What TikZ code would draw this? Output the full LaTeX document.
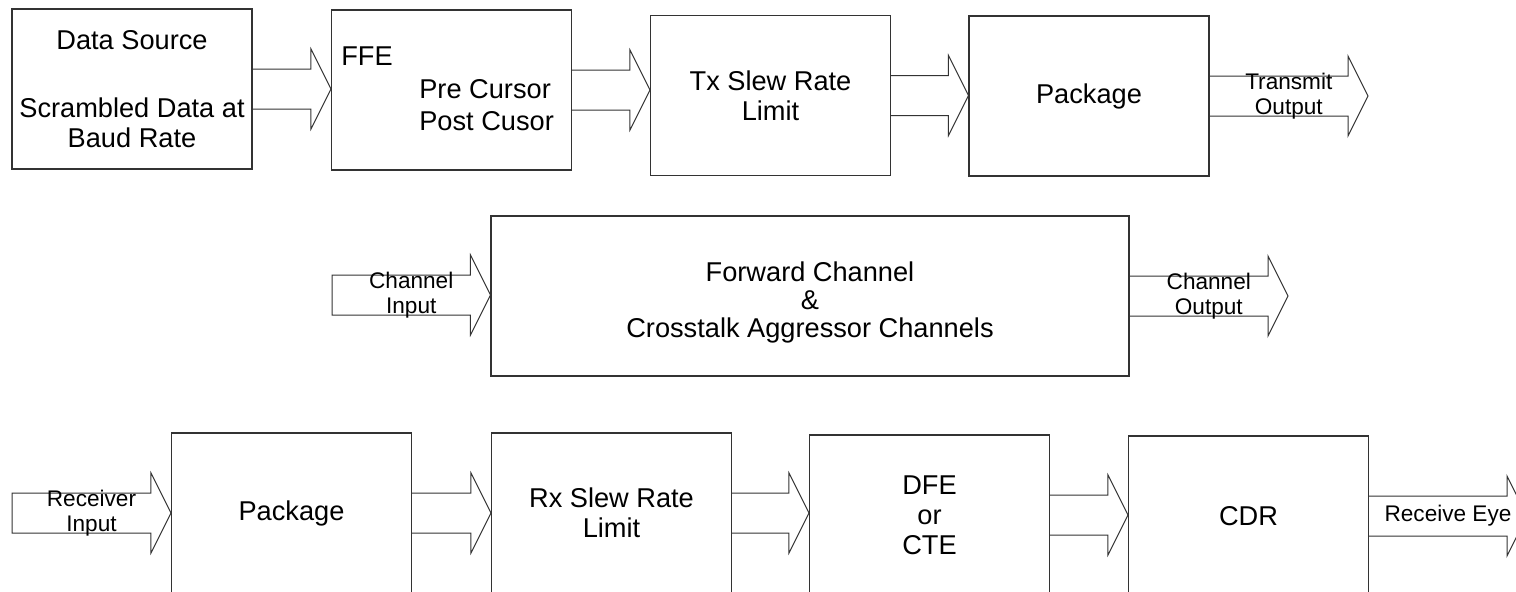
\documentclass[tikz,border=0pt]{standalone}
\usepackage{fontspec}
\setmainfont{Liberation Sans}
\usetikzlibrary{calc, positioning}

% block arrow from #1 (tail) to #2 (tip); end with ; or -- cycle;
\newcommand{\fatarrow}[2]{%
  \draw[fat] ($(#1)+(0,-20)$) -- ($(#2)+(-20,-20)$) -- ($(#2)+(-20,-40)$)
    -- (#2) -- ($(#2)+(-20,40)$) -- ($(#2)+(-20,20)$) -- ($(#1)+(0,20)$)}

\begin{document}
\begin{tikzpicture}[
  x=0.5pt, y=-0.5pt,
  block/.style={draw=black!80, line width=0.55pt, minimum width=120pt,
    minimum height=80pt, inner sep=0pt, align=center,
    font=\fontsize{13.6}{15}\selectfont},
  fat/.style={draw=black!80, line width=0.5pt, line join=miter},
  tag/.style={font=\fontsize{11.3}{12.5}\selectfont, align=center, inner sep=0pt},
  txt/.style={font=\fontsize{13.6}{15}\selectfont, inner sep=0pt}
]
  \useasboundingbox (0,0) rectangle (1516,591);
  \clip (0,0) rectangle (1516,591);

  % --- Transmitter ---
  \node[block] (ds) at (132, 89)
    {Data Source\\[19pt]Scrambled Data at\\Baud Rate};
  \node[block] (ffe) at (451.5, 90) {};
  \node[txt, anchor=base west] (ffename) at ([shift={(10,-25)}]ffe.west) {FFE};
  \node[txt, anchor=base west] (precur) at ([shift={(88,8)}]ffe.west) {Pre Cursor};
  \node[txt, anchor=base west] (postcur) at ([shift={(88,40)}]ffe.west) {Post Cusor};
  \node[block] (tx) at (770.5, 95.5) {Tx Slew Rate\\Limit};
  \node[block] (pkgtx) at (1089, 96) {Package};

  \fatarrow{ds.east}{ds.east -| ffe.west};
  \fatarrow{ffe.east}{ffe.east -| tx.west};
  \fatarrow{tx.east}{tx.east -| pkgtx.west};

  \coordinate (txout) at (1368, 96);
  \fatarrow{pkgtx.east}{txout};
  \node[tag] (lbltx) at ($(pkgtx.east)!.5!(txout)$) {Transmit\\Output};

  % --- Channel ---
  \node[block, minimum width=319pt] (fwd) at (810, 296) {};
  \node[txt, align=center, font=\fontsize{13.6}{14}\selectfont] (fwdtext)
    at ([yshift=-3pt]fwd.center) {Forward Channel\\\&\\Crosstalk Aggressor Channels};

  \coordinate (chin) at (332, 295);
  \fatarrow{chin}{chin -| fwd.west} -- cycle;
  \node[tag] (lblchin) at ($(chin)!.5!(chin -| fwd.west)$) {Channel\\Input};

  \coordinate (chout) at (1288, 296);
  \fatarrow{fwd.east}{chout};
  \node[tag] (lblchout) at ($(fwd.east)!.5!(chout)$) {Channel\\Output};

  % --- Receiver ---
  \node[block] (pkgrx) at (291.5, 513) {Package};
  \node[block] (rx) at (611.5, 513) {Rx Slew Rate\\Limit};
  \node[block] (dfe) at (929.5, 515) {DFE\\or\\CTE};
  \node[block] (cdr) at (1248.5, 516) {CDR};

  \coordinate (rxin) at (12, 513);
  \fatarrow{rxin}{rxin -| pkgrx.west} -- cycle;
  \node[tag] (lblrxin) at ($(rxin)!.5!(rxin -| pkgrx.west)$) {Receiver\\Input};

  \fatarrow{pkgrx.east}{pkgrx.east -| rx.west};
  \fatarrow{rx.east}{rx.east -| dfe.west};
  \fatarrow{dfe.east}{dfe.east -| cdr.west};

  \coordinate (eye) at (1527, 516);
  \fatarrow{cdr.east}{eye};
  \node[tag] (lbleye) at ($(cdr.east)!.5!(eye)$) {Receive Eye};
\end{tikzpicture}
\end{document}
